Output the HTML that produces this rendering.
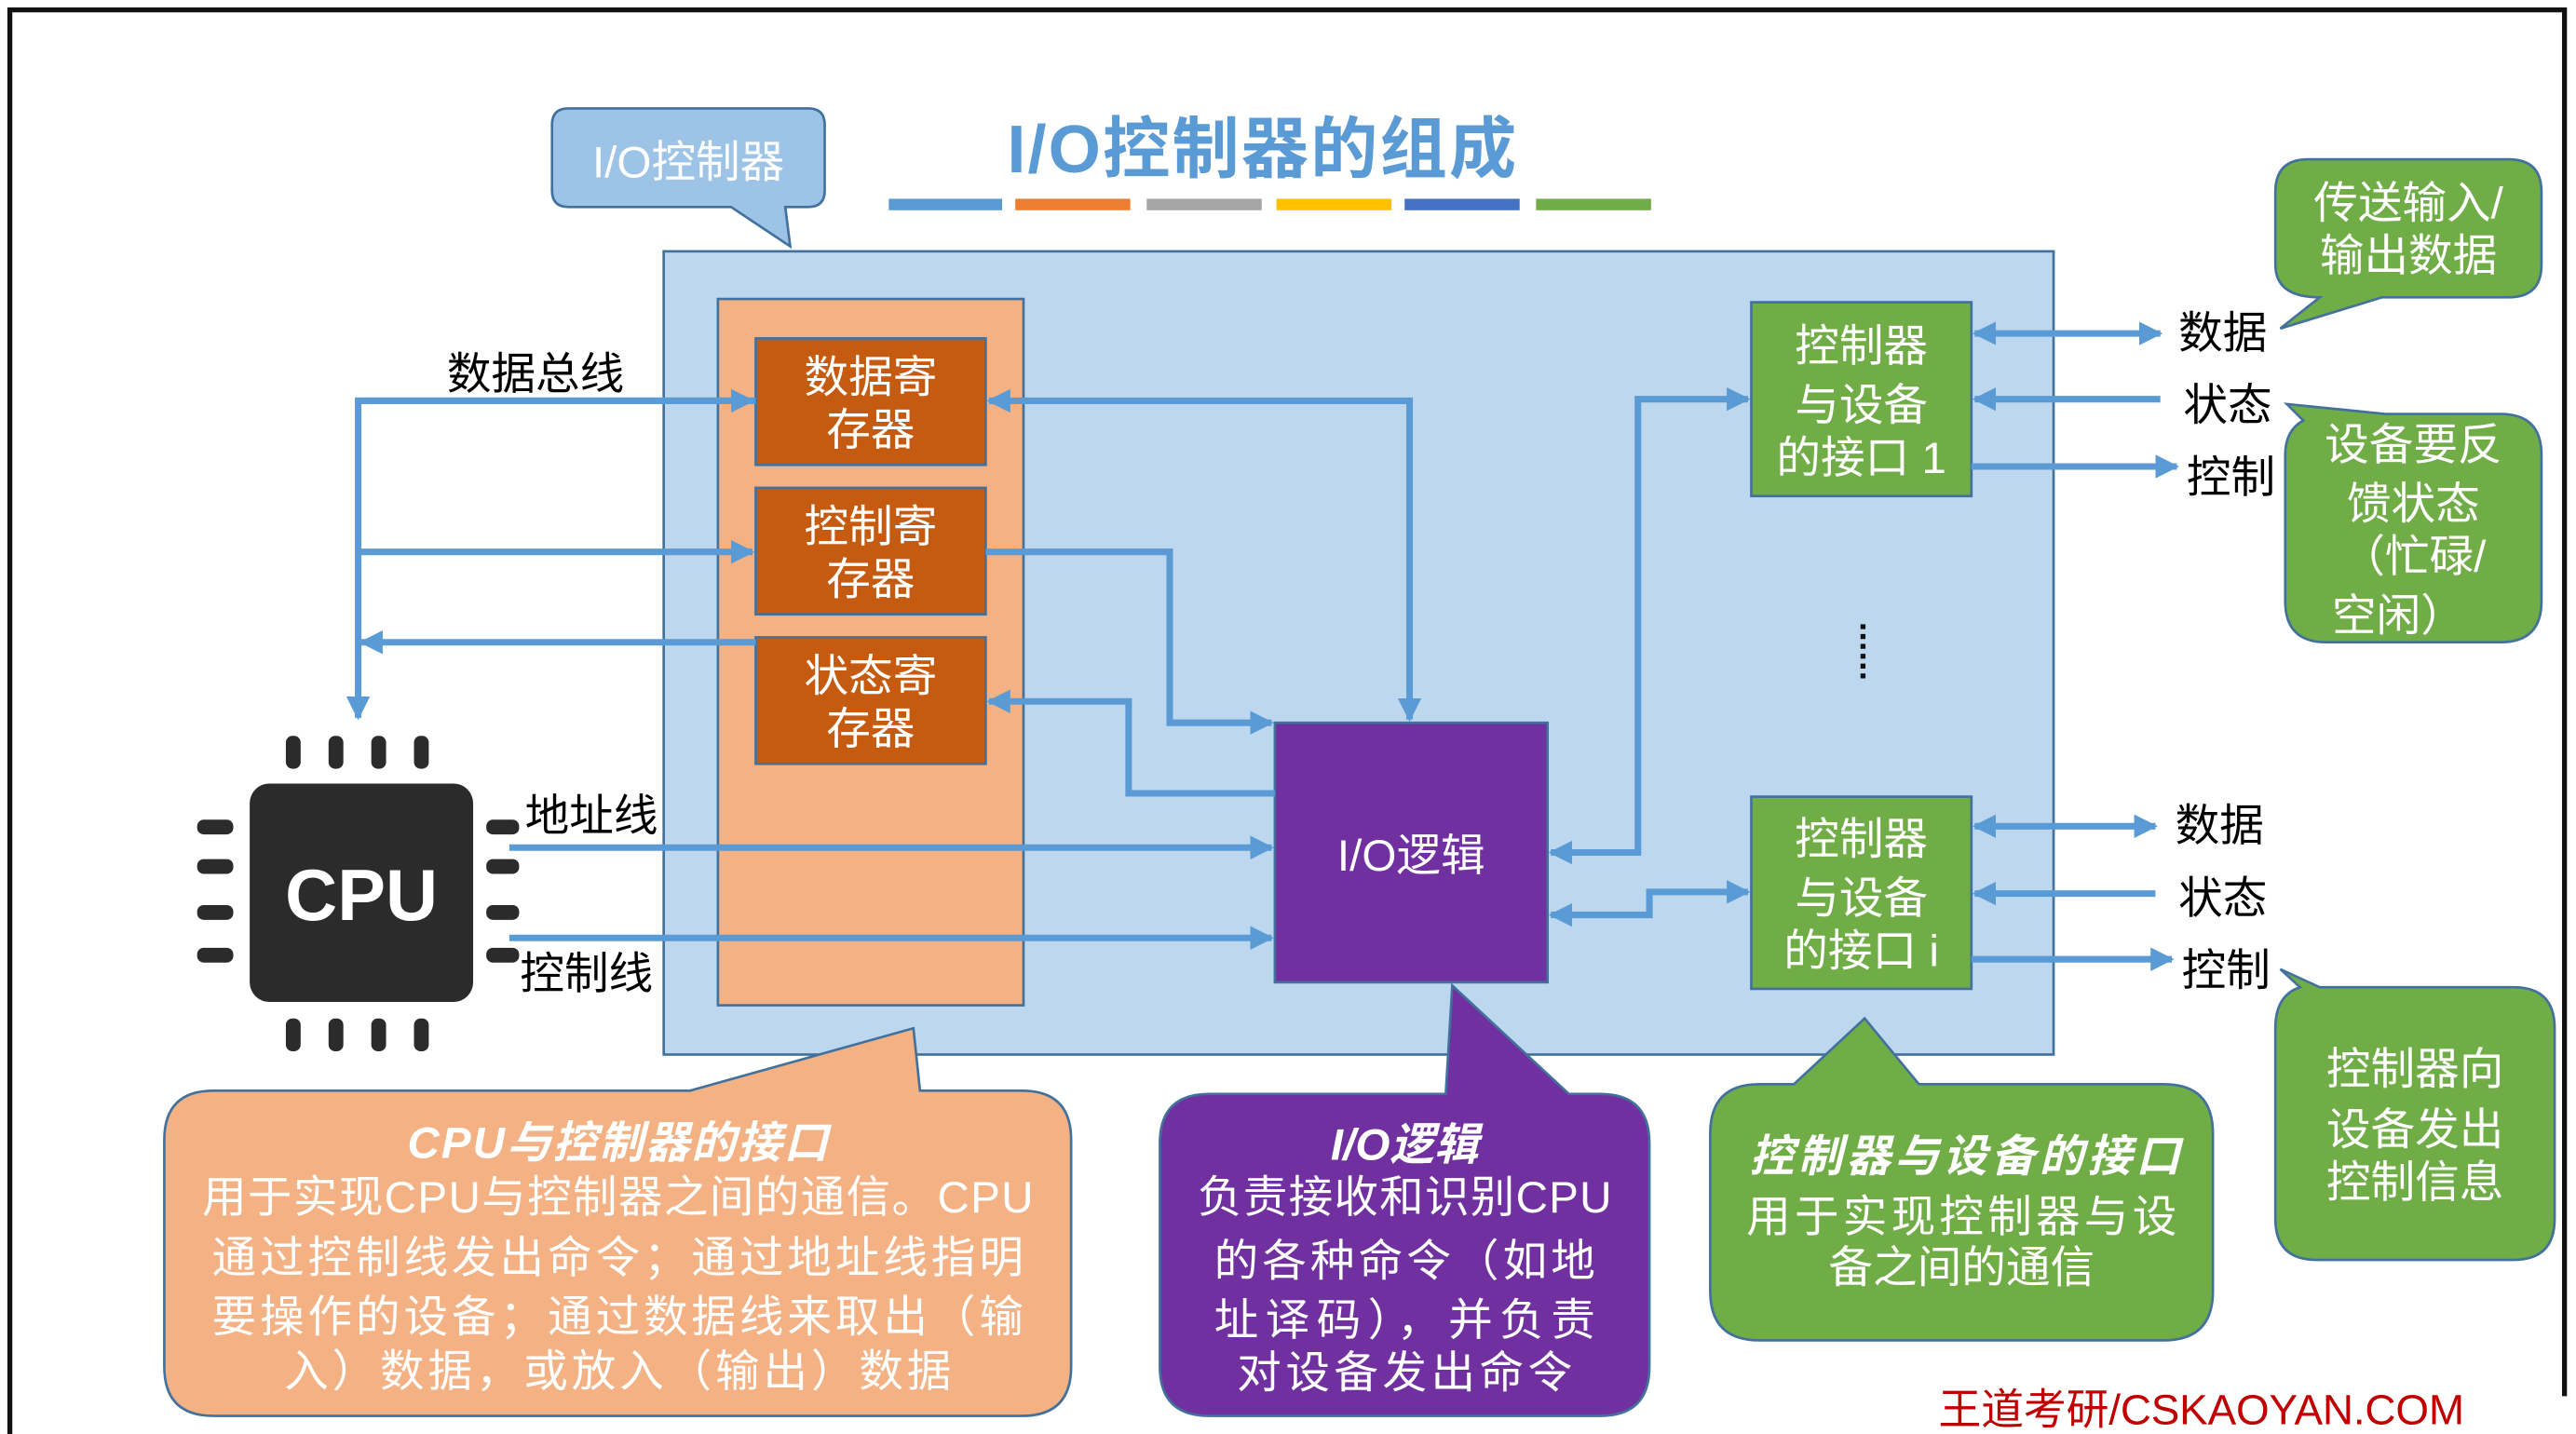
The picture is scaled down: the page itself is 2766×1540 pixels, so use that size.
<!DOCTYPE html>
<html><head><meta charset="utf-8"><style>
html,body{margin:0;padding:0;background:#fff;}
svg{display:block;}
text{font-family:"Liberation Sans","Noto Sans CJK SC",sans-serif;}
</style></head><body>
<svg width="2766" height="1540" viewBox="0 0 1568 873" preserveAspectRatio="none" xmlns="http://www.w3.org/2000/svg">
<defs>
<marker id="a" viewBox="0 0 10 10" refX="9" refY="5" markerWidth="3.6" markerHeight="3.6" orient="auto-start-reverse" markerUnits="strokeWidth">
<path d="M0,0 L10,5 L0,10 z" fill="#5b9bd5"/></marker>
</defs>
<rect width="1568" height="873" fill="#fff"/>
<path d="M6,873 V6 H1561 V850" fill="none" stroke="#111" stroke-width="3"/>

<path d="M346,66 H492 Q502,66 502,76 V116 Q502,126 492,126 H478 L481,150 L445,126 H346 Q336,126 336,116 V76 Q336,66 346,66 Z" fill="#9dc3e6" stroke="#41719c" stroke-width="1.5"/>
<text x="419" y="108" font-size="27" fill="#fff" text-anchor="middle">I/O控制器</text>
<text x="768" y="105" font-size="41" font-weight="bold" fill="#5b9bd5" text-anchor="middle" textLength="310">I/O控制器的组成</text>
<g>
<rect x="541" y="121" width="69" height="7" fill="#5b9bd5"/>
<rect x="618" y="121" width="70" height="7" fill="#ed7d31"/>
<rect x="698" y="121" width="70" height="7" fill="#a5a5a5"/>
<rect x="777" y="121" width="70" height="7" fill="#ffc000"/>
<rect x="855" y="121" width="70" height="7" fill="#4472c4"/>
<rect x="935" y="121" width="70" height="7" fill="#70ad47"/>
</g>

<rect x="404" y="153" width="846" height="489" fill="#bdd7ee" stroke="#41719c" stroke-width="1.5"/>
<rect x="437" y="182" width="186" height="430" fill="#f4b183" stroke="#41719c" stroke-width="1.5"/>

<g fill="#c55a11" stroke="#41719c" stroke-width="1.5">
<rect x="460" y="206" width="140" height="77"/>
<rect x="460" y="297" width="140" height="77"/>
<rect x="460" y="388" width="140" height="77"/>
</g>
<g font-size="27" fill="#fff" text-anchor="middle">
<text x="530" y="239">数据寄</text><text x="530" y="271">存器</text>
<text x="530" y="330">控制寄</text><text x="530" y="362">存器</text>
<text x="530" y="421">状态寄</text><text x="530" y="453">存器</text>
</g>

<rect x="776" y="440" width="166" height="158" fill="#7030a0" stroke="#41719c" stroke-width="1.5"/>
<text x="859" y="530" font-size="27" fill="#fff" text-anchor="middle">I/O逻辑</text>

<g fill="#70ad47" stroke="#41719c" stroke-width="1.5">
<rect x="1066" y="184" width="134" height="118"/>
<rect x="1066" y="485" width="134" height="117"/>
</g>
<g font-size="27" fill="#fff" text-anchor="middle">
<text x="1133" y="220">控制器</text><text x="1133" y="256">与设备</text><text x="1133" y="288">的接口 1</text>
<text x="1133" y="520">控制器</text><text x="1133" y="556">与设备</text><text x="1133" y="588">的接口 i</text>
</g>
<line x1="1134" y1="380" x2="1134" y2="414" stroke="#111" stroke-width="3" stroke-dasharray="3,3"/>

<g fill="none" stroke="#5b9bd5" stroke-width="4">
<path d="M460,244 H218 V437" marker-end="url(#a)"/>
<path d="M218,244 H458" marker-end="url(#a)"/>
<path d="M218,336 H458" marker-end="url(#a)"/>
<path d="M460,391 H220" marker-end="url(#a)"/>
<path d="M602,244 H858 V438" marker-start="url(#a)" marker-end="url(#a)"/>
<path d="M600,336 H712 V440 H774" marker-end="url(#a)"/>
<path d="M776,483 H687 V427 H602" marker-end="url(#a)"/>
<path d="M310,516 H774" marker-end="url(#a)"/>
<path d="M310,571 H774" marker-end="url(#a)"/>
<path d="M944,519 H997 V243 H1064" marker-start="url(#a)" marker-end="url(#a)"/>
<path d="M944,557 H1004 V543 H1064" marker-start="url(#a)" marker-end="url(#a)"/>
<path d="M1202,203 H1315" marker-start="url(#a)" marker-end="url(#a)"/>
<path d="M1315,243 H1202" marker-end="url(#a)"/>
<path d="M1200,284 H1325" marker-end="url(#a)"/>
<path d="M1202,503 H1312" marker-start="url(#a)" marker-end="url(#a)"/>
<path d="M1312,544 H1202" marker-end="url(#a)"/>
<path d="M1200,584 H1322" marker-end="url(#a)"/>
</g>

<g font-size="27" fill="#000" text-anchor="middle">
<text x="1353" y="212">数据</text><text x="1356" y="256">状态</text><text x="1358" y="300">控制</text>
<text x="1351" y="512">数据</text><text x="1353" y="556">状态</text><text x="1355" y="600">控制</text>
<text x="326" y="237">数据总线</text>
<text x="360" y="506">地址线</text>
<text x="357" y="602">控制线</text>
</g>

<g fill="#70ad47" stroke="#41719c" stroke-width="1.5">
<path d="M1405,97 H1527 Q1547,97 1547,117 V161 Q1547,181 1527,181 H1450 L1388,200 L1412,181 Q1385,181 1385,161 V117 Q1385,97 1405,97 Z"/>
<path d="M1392,246 L1452,252 H1522 Q1547,252 1547,277 V366 Q1547,391 1522,391 H1416 Q1391,391 1391,366 V277 Q1391,262 1402,256 Z"/>
<path d="M1388,590 L1412,601 H1530 Q1555,601 1555,626 V742 Q1555,767 1530,767 H1410 Q1385,767 1385,742 V626 Q1385,606 1400,601 Z"/>
</g>
<g font-size="27" fill="#fff" text-anchor="middle">
<text x="1466" y="133">传送输入/</text><text x="1466" y="165">输出数据</text>
<text x="1469" y="280">设备要反</text><text x="1469" y="316">馈状态</text><text x="1469" y="348">（忙碌/</text><text x="1460" y="384">空闲）</text>
<text x="1470" y="660">控制器向</text><text x="1470" y="697">设备发出</text><text x="1470" y="729">控制信息</text>
</g>

<g fill="#2b2b2b">
<rect x="152" y="477" width="136" height="133" rx="12"/>
<rect x="174" y="448" width="9" height="20" rx="4"/><rect x="200" y="448" width="9" height="20" rx="4"/><rect x="226" y="448" width="9" height="20" rx="4"/><rect x="252" y="448" width="9" height="20" rx="4"/>
<rect x="174" y="620" width="9" height="20" rx="4"/><rect x="200" y="620" width="9" height="20" rx="4"/><rect x="226" y="620" width="9" height="20" rx="4"/><rect x="252" y="620" width="9" height="20" rx="4"/>
<rect x="120" y="499" width="22" height="9" rx="4"/><rect x="120" y="523" width="22" height="9" rx="4"/><rect x="120" y="551" width="22" height="9" rx="4"/><rect x="120" y="577" width="22" height="9" rx="4"/>
<rect x="296" y="499" width="20" height="9" rx="4"/><rect x="296" y="523" width="20" height="9" rx="4"/><rect x="296" y="551" width="20" height="9" rx="4"/><rect x="296" y="577" width="20" height="9" rx="4"/>
</g>
<text x="220" y="560" font-size="44" font-weight="bold" fill="#fff" text-anchor="middle">CPU</text>

<path d="M130,664 H420 L556,626 L560,664 H622 Q652,664 652,694 V832 Q652,862 622,862 H130 Q100,862 100,832 V694 Q100,664 130,664 Z" fill="#f4b183" stroke="#41719c" stroke-width="1.5"/>
<g font-size="27" fill="#fff" text-anchor="middle">
<text x="376" y="705" font-style="italic" font-weight="bold" textLength="256">CPU与控制器的接口</text>
<text x="376" y="738" textLength="506">用于实现CPU与控制器之间的通信。CPU</text>
<text x="376" y="775" textLength="494">通过控制线发出命令；通过地址线指明</text>
<text x="376" y="811" textLength="494">要操作的设备；通过数据线来取出（输</text>
<text x="376" y="844" textLength="406">入）数据，或放入（输出）数据</text>
</g>
<path d="M736,666 H880 L884,600 L955,666 H974 Q1004,666 1004,696 V832 Q1004,862 974,862 H736 Q706,862 706,832 V696 Q706,666 736,666 Z" fill="#7030a0" stroke="#41719c" stroke-width="1.5"/>
<g font-size="27" fill="#fff" text-anchor="middle">
<text x="855" y="706" font-style="italic" font-weight="bold">I/O逻辑</text>
<text x="855" y="738" textLength="252">负责接收和识别CPU</text>
<text x="855" y="777" textLength="232">的各种命令（如地</text>
<text x="855" y="813" textLength="232">址译码），并负责</text>
<text x="855" y="845" textLength="204">对设备发出命令</text>
</g>
<path d="M1071,660 H1092 L1135,620 L1168,660 H1317 Q1347,660 1347,690 V786 Q1347,816 1317,816 H1071 Q1041,816 1041,786 V690 Q1041,660 1071,660 Z" fill="#70ad47" stroke="#41719c" stroke-width="1.5"/>
<g font-size="27" fill="#fff" text-anchor="middle">
<text x="1196" y="713" font-style="italic" font-weight="bold" textLength="262">控制器与设备的接口</text>
<text x="1194" y="750" textLength="262">用于实现控制器与设</text>
<text x="1194" y="781">备之间的通信</text>
</g>

<text x="1340" y="867" font-size="26" fill="#c00000" text-anchor="middle" textLength="320">王道考研/CSKAOYAN.COM</text>
</svg>
</body></html>
